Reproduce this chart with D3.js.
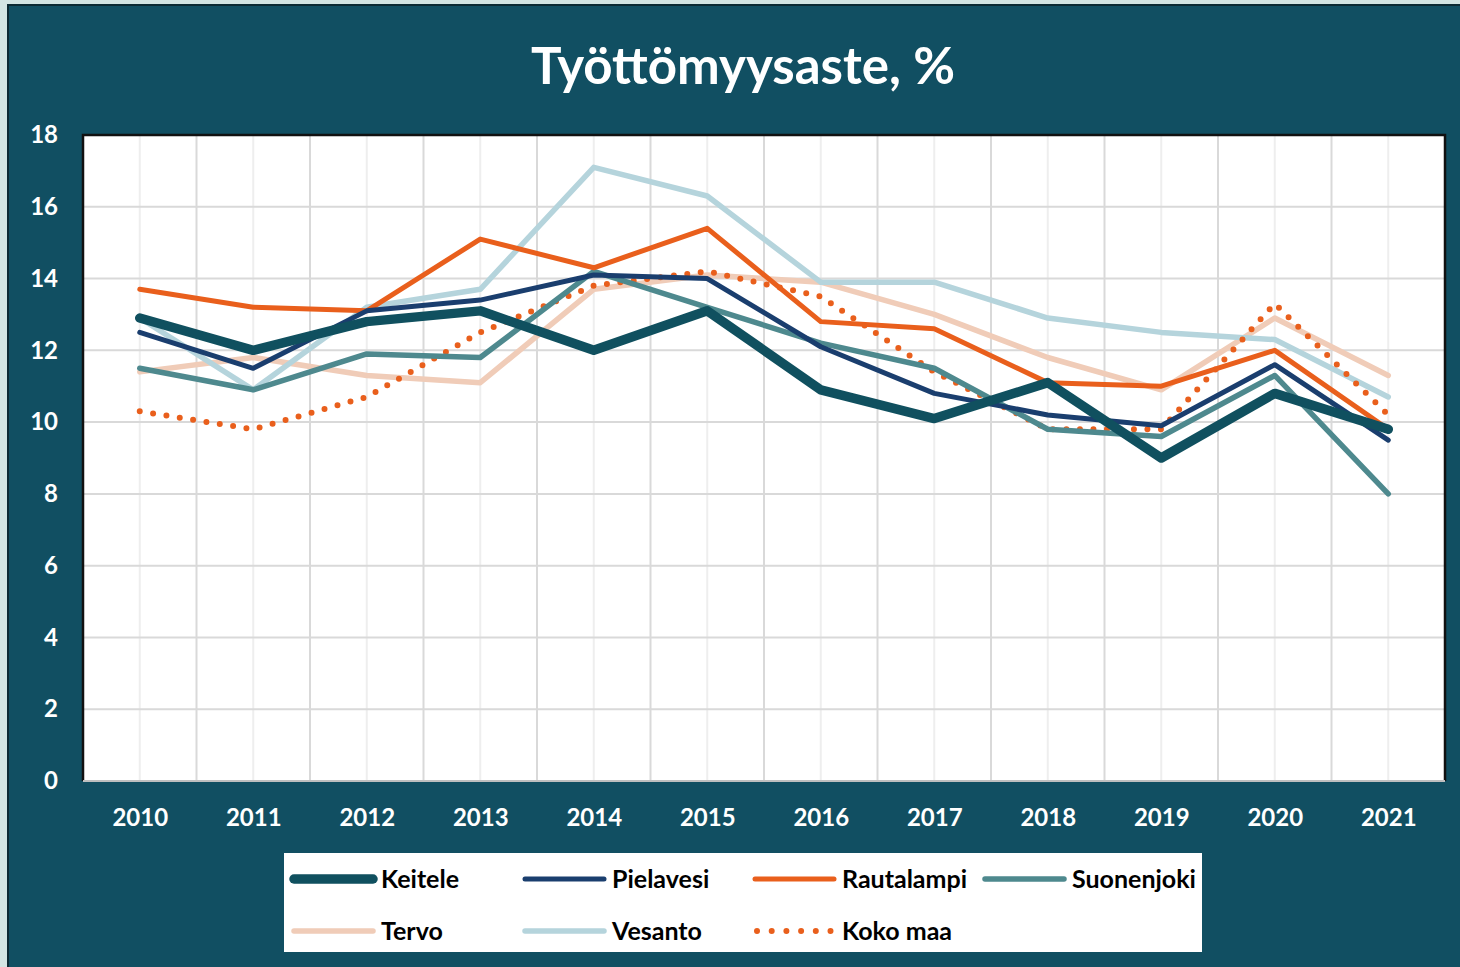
<!DOCTYPE html>
<html>
<head>
<meta charset="utf-8">
<script src="https://cdn.jsdelivr.net/npm/d3@7"></script>
<style>
  html, body { margin: 0; padding: 0; background: #d3e5e3; }
  svg { display: block; font-family: Lato, "Open Sans", sans-serif; }
</style>
</head>
<body>
<svg id="chart" width="1460" height="967"></svg>
<script>
const years = [2010, 2011, 2012, 2013, 2014, 2015, 2016, 2017, 2018, 2019, 2020, 2021];
const yTicks = [0, 2, 4, 6, 8, 10, 12, 14, 16, 18];

const keitele     = [12.9, 12.0, 12.8, 13.1, 12.0, 13.1, 10.9, 10.1, 11.1, 9.0, 10.8, 9.8];
const pielavesi   = [12.5, 11.5, 13.1, 13.4, 14.1, 14.0, 12.1, 10.8, 10.2, 9.9, 11.6, 9.5];
const rautalampi  = [13.7, 13.2, 13.1, 15.1, 14.3, 15.4, 12.8, 12.6, 11.1, 11.0, 12.0, 9.8];
const suonenjoki  = [11.5, 10.9, 11.9, 11.8, 14.2, 13.2, 12.2, 11.5, 9.8, 9.6, 11.3, 8.0];
const tervo       = [11.4, 11.8, 11.3, 11.1, 13.7, 14.1, 13.9, 13.0, 11.8, 10.9, 12.9, 11.3];
const vesanto     = [12.9, 10.9, 13.2, 13.7, 17.1, 16.3, 13.9, 13.9, 12.9, 12.5, 12.3, 10.7];
const kokoMaa     = [10.3, 9.8, 10.7, 12.5, 13.8, 14.2, 13.5, 11.4, 9.8, 9.8, 13.3, 10.2];

const series = [
  { name: 'Keitele',    values: keitele,    color: '#10505f', width: 9.5 },
  { name: 'Pielavesi',  values: pielavesi,  color: '#1a3e6e', width: 5 },
  { name: 'Rautalampi', values: rautalampi, color: '#e95f1c', width: 5 },
  { name: 'Suonenjoki', values: suonenjoki, color: '#4e898e', width: 5.5 },
  { name: 'Tervo',      values: tervo,      color: '#f0ccb8', width: 5.5 },
  { name: 'Vesanto',    values: vesanto,    color: '#b5d4dc', width: 5.5 },
  { name: 'Koko maa',   values: kokoMaa,    color: '#e95f1c', width: 6, dotted: true }
];

const svg = d3.select('#chart');
const plot = { left: 83, top: 135, right: 1445, bottom: 781 };

// background panel
svg.append('rect').attr('x', 0).attr('y', 0).attr('width', 1460).attr('height', 967).attr('fill', '#d3e5e3');
svg.append('rect').attr('x', 8).attr('y', 5).attr('width', 1460).attr('height', 970)
  .attr('fill', '#114f62').attr('stroke', '#0b2a33').attr('stroke-width', 2);

svg.append('text')
  .attr('x', 743).attr('y', 84)
  .attr('text-anchor', 'middle')
  .attr('fill', '#fff')
  .attr('font-size', 51).attr('font-weight', 'bold')
  .text('Työttömyysaste, %');

const xBand = d3.scaleBand().domain(years).range([plot.left, plot.right]).paddingInner(0).paddingOuter(0);
const x = d3.scalePoint().domain(years).range([plot.left, plot.right]).padding(0.5);
const y = d3.scaleLinear().domain([0, 18]).range([plot.bottom, plot.top]);

svg.append('rect')
  .attr('x', plot.left).attr('y', plot.top)
  .attr('width', plot.right - plot.left).attr('height', plot.bottom - plot.top)
  .attr('fill', '#fff');

const grid = svg.append('g');
// lighter lines through the category centres
grid.selectAll('line.c').data(years).join('line')
  .attr('class', 'c')
  .attr('x1', d => x(d)).attr('x2', d => x(d))
  .attr('y1', plot.top).attr('y2', plot.bottom)
  .attr('stroke', '#eeeeee').attr('stroke-width', 2);
// darker lines on the category boundaries
grid.selectAll('line.b').data(years.slice(1)).join('line')
  .attr('class', 'b')
  .attr('x1', d => xBand(d)).attr('x2', d => xBand(d))
  .attr('y1', plot.top).attr('y2', plot.bottom)
  .attr('stroke', '#d9d9d9').attr('stroke-width', 2);
grid.selectAll('line.h').data(yTicks.slice(1)).join('line')
  .attr('class', 'h')
  .attr('x1', plot.left).attr('x2', plot.right)
  .attr('y1', d => y(d)).attr('y2', d => y(d))
  .attr('stroke', '#d9d9d9').attr('stroke-width', 2);

// plot border
svg.append('path')
  .attr('d', `M${plot.left},${plot.bottom}V${plot.top}H${plot.right}V${plot.bottom}`)
  .attr('fill', 'none').attr('stroke', '#111').attr('stroke-width', 2.5);
svg.append('line')
  .attr('x1', plot.left).attr('x2', plot.right)
  .attr('y1', plot.bottom).attr('y2', plot.bottom)
  .attr('stroke', '#bfbfbf').attr('stroke-width', 2);

// axes
const xAxis = svg.append('g')
  .attr('transform', `translate(0,${plot.bottom + 28})`)
  .call(d3.axisBottom(x).tickSize(0).tickPadding(0));
xAxis.select('.domain').remove();
xAxis.selectAll('text')
  .attr('fill', '#fff').attr('font-size', 24).attr('font-weight', 'bold')
  .attr('font-family', 'Lato, sans-serif');

const yAxis = svg.append('g')
  .attr('transform', `translate(${plot.left - 25},0)`)
  .call(d3.axisLeft(y).tickValues(yTicks).tickSize(0).tickPadding(0));
yAxis.select('.domain').remove();
yAxis.selectAll('text')
  .attr('fill', '#fff').attr('font-size', 24).attr('font-weight', 'bold')
  .attr('font-family', 'Lato, sans-serif');

// lines
const line = d3.line().x((d, i) => x(years[i])).y(d => y(d));
const drawOrder = ['Tervo', 'Vesanto', 'Koko maa', 'Suonenjoki', 'Rautalampi', 'Pielavesi', 'Keitele'];
const ordered = [...series].sort((a, b) => drawOrder.indexOf(a.name) - drawOrder.indexOf(b.name));
const lines = svg.append('g');
ordered.forEach(s => {
  const p = lines.append('path')
    .attr('d', line(s.values))
    .attr('fill', 'none')
    .attr('stroke', s.color)
    .attr('stroke-width', s.width)
    .attr('stroke-linejoin', 'round')
    .attr('stroke-linecap', 'round');
  if (s.dotted) p.attr('stroke-dasharray', '0 13.5');
});

// legend
const legend = svg.append('g');
legend.append('rect').attr('x', 284).attr('y', 853).attr('width', 918).attr('height', 99).attr('fill', '#fff');
const colX = [294, 525, 755, 985];
const rowY = [879, 931];
series.forEach((s, i) => {
  const cx = colX[i % 4];
  const cy = rowY[Math.floor(i / 4)];
  const g = legend.append('g');
  const sample = g.append('line')
    .attr('x1', cx).attr('x2', cx + 79)
    .attr('y1', cy).attr('y2', cy)
    .attr('stroke', s.color).attr('stroke-width', s.width)
    .attr('stroke-linecap', 'round');
  if (s.dotted) sample.attr('stroke-dasharray', '0 14.7').attr('x1', cx + 2).attr('x2', cx + 76);
  g.append('text')
    .attr('x', cx + 87).attr('y', cy + 9)
    .attr('font-size', 25).attr('font-weight', 'bold').attr('fill', '#000')
    .text(s.name);
});
</script>
</body>
</html>
